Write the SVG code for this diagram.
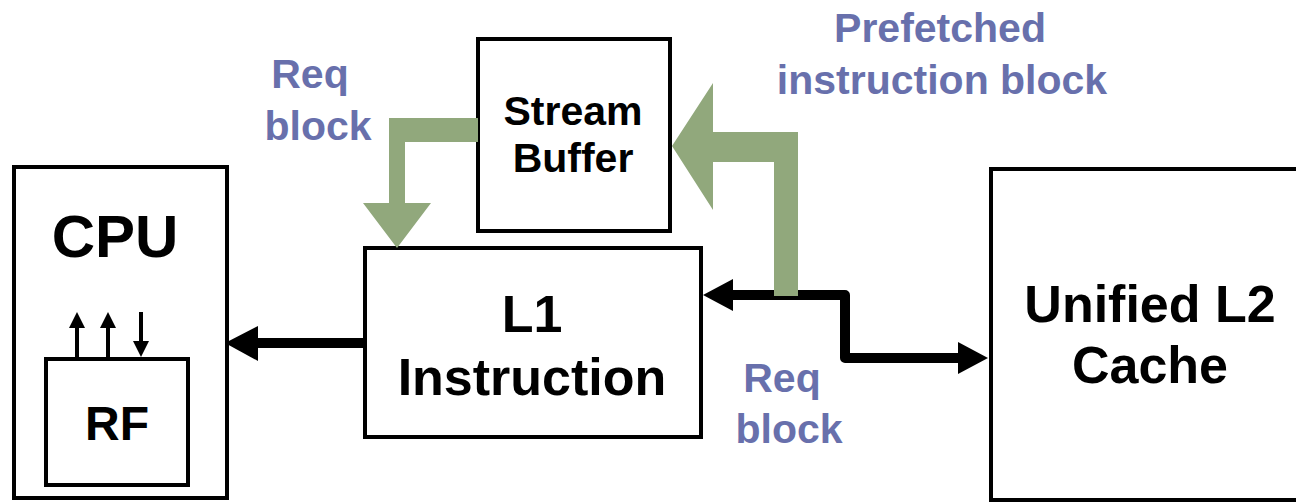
<svg xmlns="http://www.w3.org/2000/svg" width="1296" height="503" viewBox="0 0 1296 503">
<style>
.box{fill:#fff;stroke:#000;stroke-width:4}
.t{font-family:"Liberation Sans",Arial,sans-serif;font-weight:bold;fill:#000;text-anchor:middle}
.lbl{font-family:"Liberation Sans",Arial,sans-serif;font-weight:bold;fill:#6870AC;font-size:41px;text-anchor:middle}
.wire{fill:none;stroke:#000;stroke-width:10;stroke-linejoin:round}
.thin{fill:none;stroke:#000;stroke-width:4}
.green{fill:#91A87C}
</style>
<rect width="1296" height="503" fill="#fff"/>
<g id="cpu">
<rect class="box" x="14" y="167" width="213" height="331"/>
<text class="t" x="115" y="257" font-size="60">CPU</text>
</g>
<g id="rf">
<rect class="box" x="46" y="359" width="142" height="126"/>
<text class="t" x="117" y="440" font-size="48">RF</text>
<line class="thin" x1="77" y1="357" x2="77" y2="325"/>
<polygon points="77,312 69,328 85,328"/>
<line class="thin" x1="108" y1="357" x2="108" y2="325"/>
<polygon points="108,312 100,328 116,328"/>
<line class="thin" x1="141" y1="312" x2="141" y2="344"/>
<polygon points="141,357 133,341 149,341"/>
</g>
<g id="stream-buffer">
<rect class="box" x="478" y="39" width="192" height="192"/>
<text class="t" x="573" y="125" font-size="41">Stream</text>
<text class="t" x="573" y="172" font-size="41">Buffer</text>
</g>
<g id="l1">
<rect class="box" x="365" y="248" width="336" height="189"/>
<text class="t" x="532" y="332" font-size="52">L1</text>
<text class="t" x="532" y="395" font-size="52">Instruction</text>
</g>
<g id="l2">
<rect class="box" x="991" y="169" width="330" height="331"/>
<text class="t" x="1150" y="322" font-size="52">Unified L2</text>
<text class="t" x="1150" y="383" font-size="52">Cache</text>
</g>
<g id="connectors">
<line class="wire" x1="365" y1="343" x2="255" y2="343" stroke-linejoin="miter"/>
<polygon points="225,343 258,326 258,361"/>
<path class="wire" d="M730,295 H845 V358 H961"/>
<polygon points="703,295 733,279 733,311"/>
<polygon points="988,358 958,342 958,374"/>
<polygon class="green" points="478,118 389,118 389,203 363,203 397,248 431,203 405,203 405,142 478,142"/>
<polygon class="green" points="798,296 774,296 774,162 713,162 713,210 672,146 713,83 713,132 798,132"/>
</g>
<g id="labels">
<text class="lbl" x="310" y="88">Req</text>
<text class="lbl" x="318" y="140">block</text>
<text class="lbl" x="940" y="42">Prefetched</text>
<text class="lbl" x="942" y="94">instruction block</text>
<text class="lbl" x="782" y="392">Req</text>
<text class="lbl" x="789" y="443">block</text>
</g>
</svg>
